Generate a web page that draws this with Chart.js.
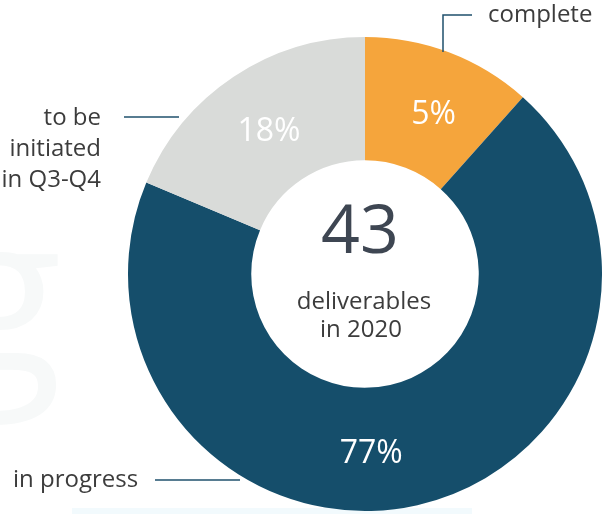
<!DOCTYPE html>
<html>
<head>
<meta charset="utf-8">
<script src="https://cdn.jsdelivr.net/npm/chart.js@4"></script>
<style>
  body { margin: 0; background: #fff; }
  #wrap { width: 602px; height: 514px; position: relative; }
</style>
</head>
<body>
<div id="wrap"><canvas id="donut" width="602" height="514"></canvas></div>
<script>
const categories = ["complete", "in progress", "to be initiated in Q3-Q4"];
// arc sizes as drawn in the picture (share of the circle, %)
const values = [11.6, 69.7, 18.7];
// the percentages printed on the slices
const pctLabels = ["5%", "77%", "18%"];
const total = "43";
const totalCaption = ["deliverables", "in 2020"];

const COLORS = ["#f5a53c", "#154e6b", "#d9dbd9"];
const FONT = "'Open Sans', 'Noto Sans', sans-serif";
const LINE_COLOR = "#1f506c";

// where along each slice the percent text sits (angle fraction, radius fraction)
const pctPlace = [[0.56, 0.48], [0.543, 0.54], [0.495, 0.47]];

const outerLabels = [
  { lines: ["complete"], x: 488, y: 15, align: "left", line: [[472, 15], [443, 15], [443, 52]] },
  { lines: ["to be", "initiated", "in Q3-Q4"], x: 101, y: 118, align: "right", line: [[124, 117], [179, 117]] },
  { lines: ["in progress"], x: 13, y: 480, align: "left", line: [[155, 480], [240, 480]] },
];

const decor = {
  id: "decor",
  beforeDraw(chart) {
    const c = chart.ctx;
    c.save();
    c.fillStyle = "#f7f9f9";
    c.font = "220px " + FONT;
    c.textAlign = "right";
    c.textBaseline = "alphabetic";
    c.fillText("g", 62, 372);
    c.fillStyle = "#f2fafd";
    c.fillRect(72, 508, 400, 6);
    c.restore();
  },
  afterDraw(chart) {
    const c = chart.ctx;
    const meta = chart.getDatasetMeta(0);
    c.save();
    // percent labels on the slices
    c.fillStyle = "#ffffff";
    c.font = "32px " + FONT;
    c.textAlign = "center";
    c.textBaseline = "middle";
    meta.data.forEach((arc, i) => {
      const p = arc.getProps(["x", "y", "startAngle", "endAngle", "innerRadius", "outerRadius"]);
      const a = p.startAngle + (p.endAngle - p.startAngle) * pctPlace[i][0];
      const r = p.innerRadius + (p.outerRadius - p.innerRadius) * pctPlace[i][1];
      c.fillText(pctLabels[i], p.x + Math.cos(a) * r, p.y + Math.sin(a) * r);
    });
    // centre text
    const cx = meta.data[0].x, cy = meta.data[0].y;
    c.fillStyle = "#3e4652";
    c.font = "68px " + FONT;
    c.fillText(total, cx - 5, cy - 40);
    c.fillStyle = "#3c3c3c";
    c.font = "24px " + FONT;
    c.fillText(totalCaption[0], cx - 1, cy + 28);
    c.fillText(totalCaption[1], cx - 4, cy + 56);
    // outside labels with leader lines
    c.strokeStyle = LINE_COLOR;
    c.lineWidth = 1.5;
    c.font = "24px " + FONT;
    outerLabels.forEach(l => {
      c.textAlign = l.align;
      l.lines.forEach((t, k) => c.fillText(t, l.x, l.y + k * 31));
      c.beginPath();
      l.line.forEach(([x, y], k) => k ? c.lineTo(x, y) : c.moveTo(x, y));
      c.stroke();
    });
    c.restore();
  },
};

const config_donut = {
  type: "doughnut",
  data: {
    labels: categories,
    datasets: [{
      data: values,
      backgroundColor: COLORS,
      borderWidth: 0,
    }],
  },
  options: {
    responsive: false,
    animation: false,
    cutout: "48%",
    layout: { padding: { left: 128, right: 0, top: 37, bottom: 3 } },
    plugins: {
      legend: { display: false },
      tooltip: { enabled: false },
    },
  },
  plugins: [decor],
};

var ctx = document.getElementById("donut").getContext("2d");
var donutChart = new Chart(ctx, config_donut);
</script>
</body>
</html>
